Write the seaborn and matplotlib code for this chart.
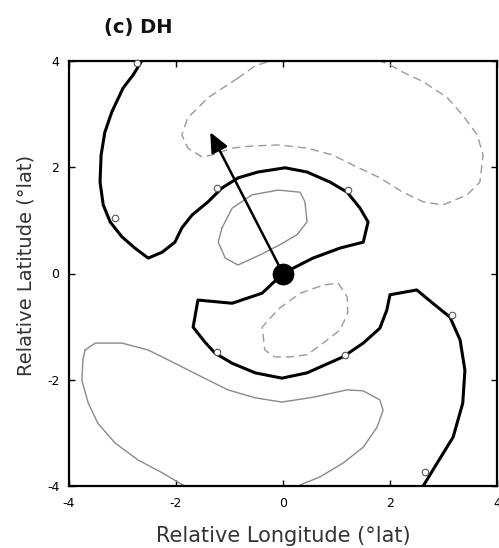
import numpy as np
import pandas as pd
import matplotlib
matplotlib.use("Agg")
import matplotlib.pyplot as plt
import seaborn as sns

# Zero contour of the composite field (thick black), from top edge through the centre to bottom edge
zero_x = [-2.64, -2.80, -2.99, -3.20, -3.33, -3.40, -3.42, -3.36, -3.23, -3.01, -2.77, -2.52,
          -2.26, -2.02, -1.89, -1.70, -1.40, -1.14, -0.84, -0.47, 0.04, 0.45, 0.88, 1.20,
          1.44, 1.59, 1.50, 1.07, 0.56, 0.19, 0.00,
          -0.39, -0.95, -1.59, -1.68, -1.46, -1.27, -0.95, -0.52, -0.02, 0.45, 1.12, 1.50,
          1.81, 1.94, 2.00, 2.50, 2.80, 3.12, 3.31, 3.40, 3.36, 3.18, 2.88, 2.62]
zero_y = [4.00, 3.74, 3.49, 3.04, 2.66, 2.23, 1.72, 1.29, 0.97, 0.69, 0.48, 0.29,
          0.40, 0.59, 0.86, 1.10, 1.35, 1.61, 1.80, 1.91, 1.99, 1.91, 1.72, 1.53,
          1.23, 0.97, 0.59, 0.48, 0.29, 0.10, 0.00,
          -0.37, -0.56, -0.50, -1.01, -1.29, -1.50, -1.69, -1.87, -1.97, -1.87, -1.57, -1.31,
          -1.03, -0.69, -0.40, -0.31, -0.56, -0.82, -1.25, -1.82, -2.44, -3.08, -3.57, -4.00]

# Negative contours (dashed grey)
neg_big_x = [-0.84, -1.40, -1.78, -1.89, -1.78, -1.51, -1.33, -0.95, -0.58, -0.09, 0.45, 0.93,
             1.31, 1.81, 2.24, 2.62, 2.99, 3.44, 3.68, 3.74, 3.63, 3.36, 3.07, 2.62, 2.24,
             2.00, 1.81, -0.24, -0.52, -0.84]
neg_big_y = [3.68, 3.31, 2.93, 2.61, 2.36, 2.19, 2.23, 2.36, 2.40, 2.42, 2.36, 2.23,
             2.04, 1.80, 1.53, 1.35, 1.29, 1.48, 1.72, 2.23, 2.61, 2.98, 3.31, 3.61, 3.79,
             3.93, 4.00, 4.00, 3.91, 3.68]
neg_small_x = [1.03, 1.20, 1.21, 1.07, 0.75, 0.45, 0.13, -0.15, -0.34, -0.39, -0.24, -0.06,
               0.32, 0.75, 1.03]
neg_small_y = [-0.18, -0.44, -0.74, -1.06, -1.31, -1.53, -1.57, -1.57, -1.44, -1.01, -0.84, -0.65,
               -0.37, -0.22, -0.18]

# Positive contours (thin grey)
pos_small_x = [-1.14, -0.95, -0.58, -0.09, 0.32, 0.41, 0.45, 0.26, -0.06, -0.43, -0.84, -1.08,
               -1.21, -1.14]
pos_small_y = [0.86, 1.23, 1.48, 1.57, 1.53, 1.35, 0.97, 0.73, 0.54, 0.35, 0.16, 0.29,
               0.59, 0.86]
pos_big_x = [-3.70, -3.51, -3.01, -2.52, -2.02, -1.51, -1.03, -0.52, -0.02, 0.56, 1.20, 1.50,
             1.81, 1.87, 1.76, 1.50, 1.12, 0.69, 0.32, 0.32, -1.83, -1.96, -2.26, -2.71,
             -3.14, -3.46, -3.64, -3.76, -3.74, -3.70]
pos_big_y = [-1.44, -1.31, -1.31, -1.44, -1.69, -1.95, -2.19, -2.34, -2.42, -2.33, -2.19, -2.21,
             -2.38, -2.57, -2.89, -3.27, -3.57, -3.83, -3.98, -4.00, -4.00, -3.93, -3.75, -3.51,
             -3.19, -2.82, -2.44, -2.01, -1.63, -1.44]

# Sample positions marked along the zero line
mark_x = [-2.73, -3.14, -1.23, 1.21, -1.23, 1.16, 3.16, 2.65]
mark_y = [3.96, 1.05, 1.61, 1.57, -1.48, -1.53, -0.78, -3.74]

# Storm centre and motion vector
centre_x, centre_y = [0.0], [0.0]
motion_dx, motion_dy = -1.36, 2.66

ticks = [-4, -2, 0, 2, 4]

sns.set_theme(style="white")
plt.rcParams["font.family"] = ["DejaVu Sans"]
plt.rcParams["axes.unicode_minus"] = False

fig = plt.figure(figsize=(4.99, 5.48), dpi=100)
ax = fig.add_axes([69 / 499, 62 / 548, 428 / 499, 425 / 548])


def draw(xs, ys, **kw):
    df = pd.DataFrame({"x": xs, "y": ys})
    sns.lineplot(data=df, x="x", y="y", sort=False, estimator=None, ax=ax, **kw)


draw(pos_big_x, pos_big_y, color="#8a8a8a", linewidth=1.0)
draw(pos_small_x, pos_small_y, color="#8a8a8a", linewidth=1.0)
draw(neg_big_x, neg_big_y, color="#9a9a9a", linewidth=1.0, dashes=(6, 3.5))
draw(neg_small_x, neg_small_y, color="#9a9a9a", linewidth=1.0, dashes=(6, 3.5))
draw(zero_x, zero_y, color="black", linewidth=2.2)

sns.scatterplot(x=mark_x, y=mark_y, marker="o", s=22, facecolor="white",
                edgecolor="#555555", linewidth=0.8, ax=ax, zorder=4, clip_on=False)

ax.annotate("", xy=(centre_x[0] + motion_dx, centre_y[0] + motion_dy),
            xytext=(centre_x[0], centre_y[0]),
            arrowprops=dict(arrowstyle="-|>,head_length=1.0,head_width=0.45",
                            color="black", lw=1.8, shrinkA=0, shrinkB=0), zorder=5)
sns.scatterplot(x=centre_x, y=centre_y, s=210, color="black", edgecolor="black", ax=ax, zorder=6)

ax.set_xlim(-4, 4)
ax.set_ylim(-4, 4)
ax.set_xticks(ticks)
ax.set_yticks(ticks)
ax.set_xticklabels([str(t) for t in ticks], fontsize=9, color="#333333")
ax.set_yticklabels([str(t) for t in ticks], fontsize=9, color="#333333")
ax.tick_params(direction="in", length=4, width=1, top=True, right=True,
               bottom=True, left=True, colors="black")
ax.tick_params(axis="x", pad=8)
ax.tick_params(axis="y", pad=7)
for s in ax.spines.values():
    s.set_visible(True)
    s.set_color("black")
    s.set_linewidth(1.6)

ax.set_xlabel("Relative Longitude (°lat)", fontsize=15, color="#333333")
ax.set_ylabel("Relative Latitude (°lat)", fontsize=14, color="#333333")
ax.xaxis.set_label_coords(0.5, -0.094)
ax.yaxis.set_label_coords(-0.079, 0.52)
fig.text(104 / 499, 1 - 28 / 548, "(c) DH", fontsize=14, fontweight="bold",
         ha="left", va="center", color="#111111")

fig.savefig("out.png", dpi=100)
